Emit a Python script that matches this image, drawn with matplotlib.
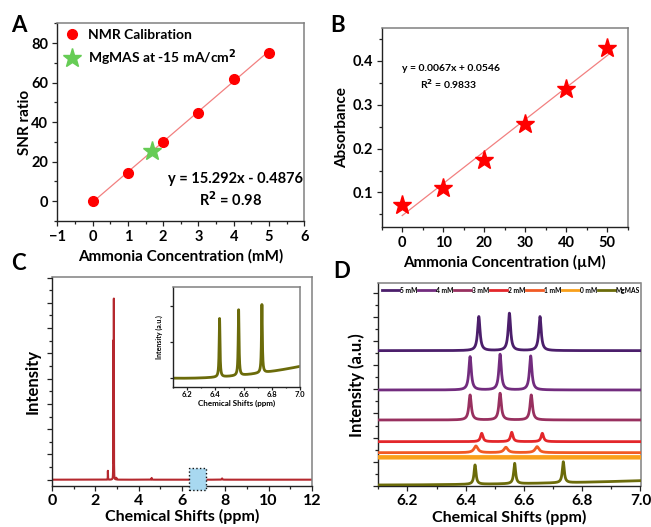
import numpy as np
import matplotlib
matplotlib.use('Agg')
import matplotlib.pyplot as plt
from matplotlib.lines import Line2D
from matplotlib.patches import Rectangle
from matplotlib.ticker import MultipleLocator, NullFormatter, FixedLocator

plt.rcParams['font.family'] = ['Lato', 'DejaVu Sans']
plt.rcParams['font.weight'] = 'bold'
plt.rcParams['axes.labelweight'] = 'bold'
plt.rcParams['mathtext.default'] = 'bf'

# ---------------- data ----------------
# Panel A
a_conc = [0, 1, 2, 3, 4, 5]
a_snr = [0.0, 14.2, 29.8, 44.5, 62.0, 75.0]
a_mgmas_conc = [1.68]
a_mgmas_snr = [25.4]
a_fit_coef = [15.292, -0.4876]

# Panel B
b_conc = [0, 10, 20, 30, 40, 50]
b_abs = [0.071, 0.111, 0.174, 0.256, 0.336, 0.430]

# Panel C (full spectrum, peaks: position, height, half width)
c_peak_pos = [2.58, 2.83, 2.855, 2.97, 4.60, 7.85]
c_peak_height = [0.35, 5.41, 7.09, 0.07, 0.07, 0.05]
c_peak_width = [0.004, 0.003, 0.003, 0.006, 0.008, 0.015]

# Panel C inset
ins_peak_pos = [6.430, 6.565, 6.730]
ins_peak_height = [1.63, 1.83, 1.90]
ins_peak_width = [0.0035, 0.0035, 0.0035]
ins_base_x = [6.1, 6.4, 6.6, 6.8, 7.0]
ins_base_y = [0.0, 0.04, 0.09, 0.18, 0.34]

# Panel D
d_labels = ['5 mM', '4 mM', '3 mM', '2 mM', '1 mM', '0 mM', 'MgMAS']
d_colors = ['#4B1E6B', '#722C7E', '#98305F', '#E3262A', '#F15A24', '#F9A01B', '#6B6B0A']
d_offsets = [406, 288, 198, 133, 100, 86, 0]
d_peak_pos = [[6.445, 6.550, 6.655], [6.415, 6.518, 6.623], [6.415, 6.518, 6.625],
              [6.455, 6.558, 6.663], [6.435, 6.538, 6.645], [], [6.432, 6.568, 6.735]]
d_peak_height = [[102, 112, 102], [100, 107, 102], [75, 80, 75],
                 [25, 28, 25], [20, 16, 18], [], [58, 61, 63]]
d_peak_width = [0.005, 0.005, 0.005, 0.005, 0.008, 0.005, 0.004]
d_base_x = [6.1, 6.4, 6.7, 7.0]
d_mgmas_base = [3, 5, 9, 16]


def lorentz(x, x0, h, w):
    return h * w ** 2 / ((x - x0) ** 2 + w ** 2)


W, H = 651, 527
fig = plt.figure(figsize=(W / 100, H / 100), dpi=100)


def add_ax(l, r, t, b):
    return fig.add_axes([l / W, (H - b) / H, (r - l) / W, (b - t) / H])


def style(ax, lbl=10.5, pad=3.0):
    for s in ['top', 'right']:
        ax.spines[s].set_color('#808080')
        ax.spines[s].set_linewidth(1.1)
    for s in ['left', 'bottom']:
        ax.spines[s].set_color('#222222')
        ax.spines[s].set_linewidth(1.0)
    ax.tick_params(which='both', direction='out', top=False, right=False,
                   labelsize=lbl, width=0.9, color='#222222', pad=pad)
    ax.tick_params(which='major', length=3.5)
    ax.tick_params(which='minor', length=2)
    for t in ax.get_xticklabels() + ax.get_yticklabels():
        t.set_fontweight('bold')


# ---------------- Panel A ----------------
axA = add_ax(57.3, 304.3, 23.3, 221)
xa = np.array([0, 5])
axA.plot(xa, np.polyval(a_fit_coef, xa), color='#F28080', lw=0.9, zorder=1)
axA.plot(a_conc, a_snr, 'o', color='#FF0000', ms=7, ls='none', label='NMR Calibration', zorder=3)
axA.plot(a_mgmas_conc, a_mgmas_snr, '*', color='#66CC55', ms=14, ls='none',
         label='MgMAS at -15 mA/cm$^2$', zorder=4)
axA.set_xlim(-1, 6)
axA.set_ylim(-10, 90)
axA.xaxis.set_major_locator(MultipleLocator(1))
axA.xaxis.set_minor_locator(MultipleLocator(0.5))
axA.yaxis.set_major_locator(FixedLocator([0, 20, 40, 60, 80]))
axA.yaxis.set_minor_locator(MultipleLocator(10))
style(axA)
axA.set_xlabel('Ammonia Concentration (mM)', fontsize=11, va='center')
axA.xaxis.set_label_coords(0.5, -0.18)
axA.set_ylabel('SNR ratio', fontsize=11, va='center')
axA.yaxis.set_label_coords(-0.131, 0.5)
axA.legend(loc='upper left', bbox_to_anchor=(-0.02, 1.02), frameon=False, fontsize=10,
           handletextpad=0.4, labelspacing=0.45, borderaxespad=0.3, handlelength=1.5)
axA.text(0.723, 0.212, 'y = 15.292x - 0.4876', transform=axA.transAxes, ha='center',
         va='center', fontsize=10.5, fontweight='bold')
axA.text(0.70, 0.106, 'R$^2$ = 0.98', transform=axA.transAxes, ha='center',
         va='center', fontsize=10.5, fontweight='bold')

# ---------------- Panel B ----------------
axB = add_ax(381.7, 627.7, 28.3, 226.7)
bfit = np.polyfit(b_conc, b_abs, 1)
xb = np.array([0, 50.5])
axB.plot(xb, np.polyval(bfit, xb), color='#F28080', lw=0.9, zorder=1)
axB.plot(b_conc, b_abs, '*', color='#FF0000', ms=14, ls='none', zorder=3)
axB.set_xlim(-5, 55)
axB.set_ylim(0.022, 0.474)
axB.xaxis.set_major_locator(MultipleLocator(10))
axB.xaxis.set_minor_locator(MultipleLocator(5))
axB.yaxis.set_major_locator(FixedLocator([0.1, 0.2, 0.3, 0.4]))
axB.yaxis.set_minor_locator(MultipleLocator(0.05))
style(axB)
axB.set_xlabel('Ammonia Concentration (µM)', fontsize=11, va='center')
axB.xaxis.set_label_coords(0.5, -0.178)
axB.set_ylabel('Absorbance', fontsize=11, va='center')
axB.yaxis.set_label_coords(-0.161, 0.5)
axB.text(0.28, 0.795, 'y = 0.0067x + 0.0546', transform=axB.transAxes, ha='center',
         va='center', fontsize=7.5, fontweight='bold')
axB.text(0.27, 0.718, 'R$^2$ = 0.9833', transform=axB.transAxes, ha='center',
         va='center', fontsize=7.5, fontweight='bold')

# ---------------- Panel C ----------------
axC = add_ax(52, 312, 277, 486)
xc = np.linspace(0, 12, 48001)
yc = np.zeros_like(xc)
for p, h, w in zip(c_peak_pos, c_peak_height, c_peak_width):
    yc += lorentz(xc, p, h, w)
axC.plot(xc, yc, color='#B5282E', lw=1.5, zorder=2)
axC.add_patch(Rectangle((6.32, -0.4), 0.77, 0.86, facecolor='#A8D8F0', edgecolor='#111111',
                        ls=':', lw=1.0, zorder=3, clip_on=False))
axC.set_xlim(0, 12)
axC.set_ylim(-0.25, 8.02)
axC.xaxis.set_major_locator(MultipleLocator(2))
axC.xaxis.set_minor_locator(MultipleLocator(1))
axC.yaxis.set_major_locator(MultipleLocator(1))
axC.yaxis.set_minor_locator(MultipleLocator(0.5))
axC.yaxis.set_major_formatter(NullFormatter())
style(axC, lbl=11.5, pad=2.5)
axC.set_xlabel('Chemical Shifts (ppm)', fontsize=11.5, va='center')
axC.xaxis.set_label_coords(0.5, -0.148)
axC.set_ylabel('Intensity', fontsize=12, va='center')
axC.yaxis.set_label_coords(-0.073, 0.5)

# inset
axI = add_ax(173, 300, 286.7, 387.3)
xi = np.linspace(6.1, 7.0, 4001)
base_i = np.polyval(np.polyfit(ins_base_x, ins_base_y, 2), xi)
yi = base_i.copy()
for p, h, w in zip(ins_peak_pos, ins_peak_height, ins_peak_width):
    yi += lorentz(xi, p, h, w)
axI.plot(xi, yi, color='#6B6B0A', lw=2.0)
axI.set_xlim(6.1, 7.0)
axI.set_ylim(-0.25, 2.55)
axI.xaxis.set_major_locator(MultipleLocator(0.2))
axI.xaxis.set_minor_locator(MultipleLocator(0.1))
axI.yaxis.set_major_locator(MultipleLocator(1))
axI.yaxis.set_major_formatter(NullFormatter())
style(axI, lbl=5.5)
axI.tick_params(which='major', length=2)
axI.tick_params(which='minor', length=1)
axI.tick_params(axis='x', pad=1)
axI.set_xlabel('Chemical Shifts (ppm)', fontsize=5.8, labelpad=1)
axI.set_ylabel('Intensity (a.u.)', fontsize=5, labelpad=2)

# ---------------- Panel D ----------------
axD = add_ax(378.3, 640.5, 283.3, 486)
xd = np.linspace(6.1, 7.0, 4001)
for i, (lab, col) in enumerate(zip(d_labels, d_colors)):
    if lab == 'MgMAS':
        base = np.polyval(np.polyfit(d_base_x, d_mgmas_base, 2), xd)
    else:
        base = np.full_like(xd, d_offsets[i], dtype=float)
    y = base.copy()
    for p, h in zip(d_peak_pos[i], d_peak_height[i]):
        y += lorentz(xd, p, h, d_peak_width[i])
    axD.plot(xd, y, color=col, lw=3.2 if lab == '0 mM' else 2.0, zorder=3 + i)
axD.set_xlim(6.1, 7.0)
axD.set_ylim(0, 608)
axD.xaxis.set_major_locator(MultipleLocator(0.2))
axD.xaxis.set_minor_locator(MultipleLocator(0.1))
axD.yaxis.set_major_locator(MultipleLocator(72.5))
axD.yaxis.set_minor_locator(MultipleLocator(36.25))
axD.yaxis.set_major_formatter(NullFormatter())
style(axD, lbl=11, pad=2.5)
axD.set_xlabel('Chemical Shifts (ppm)', fontsize=11.5, va='center')
axD.xaxis.set_label_coords(0.5, -0.153)
axD.set_ylabel('Intensity (a.u.)', fontsize=12, va='center')
axD.yaxis.set_label_coords(-0.081, 0.5)
handles = [Line2D([], [], color=c, lw=2) for c in d_colors]
axD.legend(handles, d_labels, loc='upper left', bbox_to_anchor=(0.0, 1.0), ncol=7,
           frameon=False, fontsize=4.8, handlelength=2.6, handletextpad=0.1,
           columnspacing=0.1, borderaxespad=0.3, borderpad=0.2)

# panel letters
for lab, x, y in [('A', 19, 25), ('B', 338, 25), ('C', 18, 263), ('D', 342, 271)]:
    fig.text(x / W, 1 - y / H, lab, fontsize=16, fontweight='bold', ha='center', va='center')

fig.savefig('out.png', dpi=100)
